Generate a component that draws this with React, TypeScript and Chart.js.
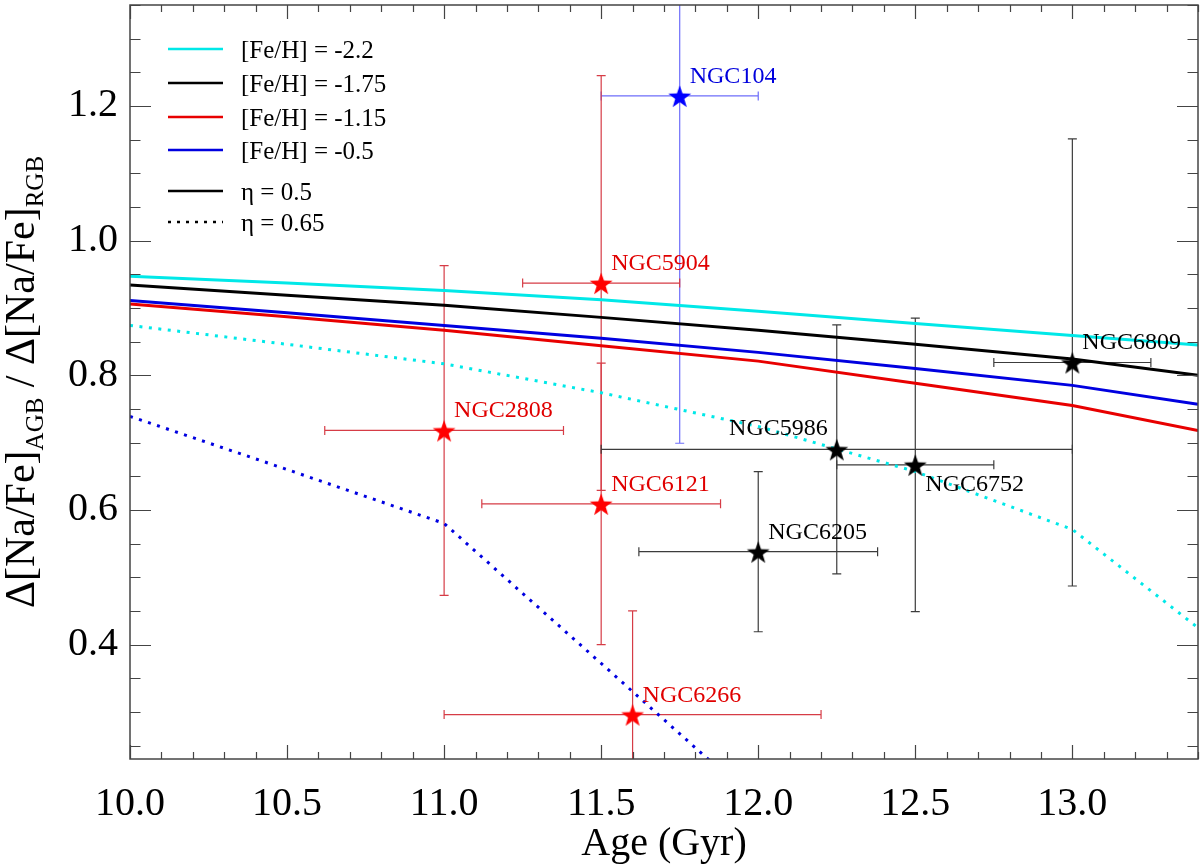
import React, { useEffect, useRef } from 'react';
import { Chart, registerables } from 'chart.js';

Chart.register(...registerables);

// model curves (age grid in Gyr)
const ages = [10.0, 10.5, 11.0, 11.5, 12.0, 12.5, 13.0, 13.4];
const feh22Eta050 = [0.947, 0.937, 0.926, 0.912, 0.895, 0.877, 0.859, 0.845];
const feh175Eta050 = [0.934, 0.919, 0.904, 0.886, 0.867, 0.846, 0.824, 0.8];
const feh115Eta050 = [0.906, 0.887, 0.867, 0.844, 0.821, 0.788, 0.755, 0.718];
const feh05Eta050 = [0.911, 0.893, 0.874, 0.855, 0.834, 0.81, 0.785, 0.757];
const feh22Eta065 = [0.874, 0.846, 0.817, 0.774, 0.724, 0.657, 0.571, 0.425];
const feh05Eta065 = [0.739, 0.66, 0.58, 0.372, 0.163, null, null, null];

// globular clusters
const clusterNames = ['NGC104', 'NGC5904', 'NGC2808', 'NGC6121', 'NGC6266', 'NGC6205', 'NGC5986', 'NGC6752', 'NGC6809'];
const clusterAge = [11.75, 11.5, 11.0, 11.5, 11.6, 12.0, 12.25, 12.5, 13.0];
const clusterAgeErr = [0.25, 0.25, 0.38, 0.38, 0.6, 0.38, 0.75, 0.25, 0.25];
const clusterRatio = [1.215, 0.937, 0.718, 0.609, 0.296, 0.538, 0.69, 0.667, 0.819];
const clusterRatioErr = [0.516, 0.308, 0.245, 0.209, 0.154, 0.119, 0.185, 0.218, 0.332];
const clusterGroup = ['blue', 'red', 'red', 'red', 'red', 'black', 'black', 'black', 'black'];
const labelSide = ['ur', 'ur', 'ur', 'ur', 'ur', 'ur', 'ul', 'lr', 'ur'];

const xTicks = [10.0, 10.5, 11.0, 11.5, 12.0, 12.5, 13.0];
const yTicks = [0.4, 0.6, 0.8, 1.0, 1.2];

const legendLabels = ['[Fe/H] = -2.2', '[Fe/H] = -1.75', '[Fe/H] = -1.15', '[Fe/H] = -0.5', 'η = 0.5', 'η = 0.65'];

const SERIF = "'Liberation Serif', 'DejaVu Serif', serif";
const CYAN = '#00e8e8';
const RED = '#e80000';
const BLUE = '#0000e0';

const starColors: Record<string, string> = { red: '#ff0000', black: '#000000', blue: '#0000ff' };
const textColors: Record<string, string> = { red: '#e00000', black: '#000000', blue: '#0000dd' };
const errColors: Record<string, string> = { red: 'rgb(214,60,70)', black: 'rgb(60,60,60)', blue: 'rgb(110,110,250)' };

const legendColors = [CYAN, '#000', RED, BLUE, '#000', '#000'];

function makeStar(color: string, r = 12) {
  const size = Math.ceil(r * 2 + 2);
  const c = document.createElement('canvas');
  c.width = size;
  c.height = size;
  const g = c.getContext('2d')!;
  g.fillStyle = color;
  g.beginPath();
  for (let i = 0; i < 10; i++) {
    const rad = i % 2 === 0 ? r : r * 0.4;
    const a = -Math.PI / 2 + (i * Math.PI) / 5;
    const px = size / 2 + rad * Math.cos(a);
    const py = size / 2 + 1.5 + rad * Math.sin(a);
    if (i === 0) g.moveTo(px, py);
    else g.lineTo(px, py);
  }
  g.closePath();
  g.fill();
  return c;
}

const curve = (vals: (number | null)[]) => ages.map((a, i) => ({ x: a, y: vals[i] }));

const errorBars = {
  id: 'errorBars',
  beforeDatasetsDraw(chart: any) {
    const { ctx, chartArea: a, scales } = chart;
    const x = scales.x, y = scales.y;
    const cap = 4.5;
    ctx.save();
    ctx.beginPath();
    ctx.rect(a.left, a.top, a.right - a.left, a.bottom - a.top);
    ctx.clip();
    ctx.lineWidth = 1.2;
    clusterNames.forEach((_, i) => {
      const cx = x.getPixelForValue(clusterAge[i]);
      const cy = y.getPixelForValue(clusterRatio[i]);
      const x0 = x.getPixelForValue(clusterAge[i] - clusterAgeErr[i]);
      const x1 = x.getPixelForValue(clusterAge[i] + clusterAgeErr[i]);
      const y0 = y.getPixelForValue(clusterRatio[i] - clusterRatioErr[i]);
      const y1 = y.getPixelForValue(clusterRatio[i] + clusterRatioErr[i]);
      ctx.strokeStyle = errColors[clusterGroup[i]];
      ctx.beginPath();
      ctx.moveTo(x0, cy);
      ctx.lineTo(x1, cy);
      ctx.moveTo(x0, cy - cap);
      ctx.lineTo(x0, cy + cap);
      ctx.moveTo(x1, cy - cap);
      ctx.lineTo(x1, cy + cap);
      ctx.moveTo(cx, y0);
      ctx.lineTo(cx, y1);
      ctx.moveTo(cx - cap, y0);
      ctx.lineTo(cx + cap, y0);
      ctx.moveTo(cx - cap, y1);
      ctx.lineTo(cx + cap, y1);
      ctx.stroke();
    });
    ctx.restore();
  },
};

const clusterLabels = {
  id: 'clusterLabels',
  afterDatasetsDraw(chart: any) {
    const { ctx, scales } = chart;
    ctx.save();
    ctx.font = `24px ${SERIF}`;
    ctx.textBaseline = 'alphabetic';
    clusterNames.forEach((name, i) => {
      const px = scales.x.getPixelForValue(clusterAge[i]);
      const py = scales.y.getPixelForValue(clusterRatio[i]);
      ctx.fillStyle = textColors[clusterGroup[i]];
      const side = labelSide[i];
      if (side === 'ul') {
        ctx.textAlign = 'right';
        ctx.fillText(name, px - 9, py - 14);
      } else if (side === 'lr') {
        ctx.textAlign = 'left';
        ctx.fillText(name, px + 10, py + 26);
      } else {
        ctx.textAlign = 'left';
        ctx.fillText(name, px + 10, py - 13);
      }
    });
    ctx.restore();
  },
};

const frameTicks = {
  id: 'frameTicks',
  afterDraw(chart: any) {
    const { ctx, chartArea: a, scales } = chart;
    const x = scales.x, y = scales.y;
    ctx.save();
    ctx.strokeStyle = '#444';
    ctx.lineWidth = 1.5;
    ctx.strokeRect(a.left, a.top, a.right - a.left, a.bottom - a.top);
    ctx.lineWidth = 1.2;
    ctx.beginPath();
    for (let k = Math.ceil(x.min * 10 - 1e-6); k <= Math.floor(x.max * 10 + 1e-6); k++) {
      const px = Math.round(x.getPixelForValue(k / 10)) + 0.5;
      const len = k % 5 === 0 ? 14 : 7;
      ctx.moveTo(px, a.bottom);
      ctx.lineTo(px, a.bottom - len);
      ctx.moveTo(px, a.top);
      ctx.lineTo(px, a.top + len);
    }
    for (let k = Math.ceil(y.min * 20 - 1e-6); k <= Math.floor(y.max * 20 + 1e-6); k++) {
      const py = Math.round(y.getPixelForValue(k / 20)) + 0.5;
      const len = k % 4 === 0 ? 21 : 10.5;
      ctx.moveTo(a.left, py);
      ctx.lineTo(a.left + len, py);
      ctx.moveTo(a.right, py);
      ctx.lineTo(a.right - len, py);
    }
    ctx.stroke();
    ctx.restore();
  },
};

const legendBox = {
  id: 'legendBox',
  afterDraw(chart: any) {
    const { ctx, chartArea: a } = chart;
    const rows = [44, 78, 112, 145, 186, 217];
    ctx.save();
    ctx.font = `25px ${SERIF}`;
    ctx.textBaseline = 'alphabetic';
    ctx.textAlign = 'left';
    legendLabels.forEach((label, i) => {
      const ly = a.top + rows[i];
      ctx.strokeStyle = legendColors[i];
      ctx.lineWidth = 2.5;
      ctx.setLineDash(i === 5 ? [3, 6] : []);
      ctx.beginPath();
      ctx.moveTo(a.left + 38, ly);
      ctx.lineTo(a.left + 93, ly);
      ctx.stroke();
      ctx.fillStyle = '#000';
      ctx.fillText(label, a.left + 111, ly + 9);
    });
    ctx.restore();
  },
};

const yTitle = {
  id: 'yTitle',
  afterDraw(chart: any) {
    const { ctx, chartArea: a } = chart;
    const main = `42px ${SERIF}`;
    const sub = `25px ${SERIF}`;
    const parts: [string, boolean][] = [
      ['Δ[Na/Fe]', false],
      ['AGB', true],
      [' / Δ[Na/Fe]', false],
      ['RGB', true],
    ];
    ctx.save();
    let total = 0;
    const widths = parts.map(([t, s]) => {
      ctx.font = s ? sub : main;
      const w = ctx.measureText(t).width;
      total += w;
      return w;
    });
    ctx.translate(34, (a.top + a.bottom) / 2);
    ctx.rotate(-Math.PI / 2);
    ctx.fillStyle = '#000';
    ctx.textAlign = 'left';
    ctx.textBaseline = 'alphabetic';
    let pos = -total / 2;
    parts.forEach(([t, s], i) => {
      ctx.font = s ? sub : main;
      ctx.fillText(t, pos, s ? 9 : 0);
      pos += widths[i];
    });
    ctx.restore();
  },
};

const App: React.FC = () => {
  const chartRef = useRef<HTMLCanvasElement | null>(null);
  const chartInstanceRef = useRef<Chart | null>(null);

  useEffect(() => {
    if (!chartRef.current) return;
    const ctx = chartRef.current.getContext('2d');
    if (!ctx) return;

    const groupPoints = (g: string) =>
      clusterNames
        .map((_, i) => i)
        .filter((i) => clusterGroup[i] === g)
        .map((i) => ({ x: clusterAge[i], y: clusterRatio[i] }));

    const lineSet = (label: string, vals: (number | null)[], color: string, dotted: boolean) => ({
      type: 'line' as const,
      label,
      data: curve(vals),
      showLine: true,
      borderColor: color,
      borderWidth: 3,
      borderDash: dotted ? [3, 6.5] : [],
      pointRadius: 0,
      fill: false,
      tension: 0,
      order: 2,
    });

    const starSet = (g: string) => ({
      type: 'scatter' as const,
      label: g,
      data: groupPoints(g),
      pointStyle: makeStar(starColors[g]),
      pointRadius: 12,
      showLine: false,
      order: 0,
    });

    chartInstanceRef.current = new Chart(ctx, {
      type: 'scatter',
      data: {
        datasets: [
          lineSet('[Fe/H] = -2.2, η = 0.5', feh22Eta050, CYAN, false),
          lineSet('[Fe/H] = -1.75, η = 0.5', feh175Eta050, '#000', false),
          lineSet('[Fe/H] = -1.15, η = 0.5', feh115Eta050, RED, false),
          lineSet('[Fe/H] = -0.5, η = 0.5', feh05Eta050, BLUE, false),
          lineSet('[Fe/H] = -2.2, η = 0.65', feh22Eta065, CYAN, true),
          lineSet('[Fe/H] = -0.5, η = 0.65', feh05Eta065, BLUE, true),
          starSet('red'),
          starSet('black'),
          starSet('blue'),
        ] as any,
      },
      options: {
        animation: false,
        responsive: true,
        maintainAspectRatio: false,
        layout: { autoPadding: false, padding: { top: 5, right: 2, left: 0, bottom: 0 } },
        plugins: {
          legend: { display: false },
          tooltip: { enabled: false },
        },
        scales: {
          x: {
            type: 'linear',
            min: 10,
            max: 13.4,
            afterBuildTicks: (s: any) => {
              s.ticks = xTicks.map((v) => ({ value: v }));
            },
            afterFit: (s: any) => {
              s.height = 109;
              s.paddingLeft = 0;
              s.paddingRight = 0;
            },
            grid: { display: false, drawTicks: false },
            border: { display: false },
            ticks: {
              font: { family: SERIF, size: 40 },
              color: '#000',
              padding: 21,
              maxRotation: 0,
              autoSkip: false,
              callback: (v: any) => Number(v).toFixed(1),
            },
            title: {
              display: true,
              text: 'Age (Gyr)',
              color: '#000',
              font: { family: SERIF, size: 40 },
              padding: { top: 0, bottom: 0 },
            },
          },
          y: {
            type: 'linear',
            min: 0.23,
            max: 1.35,
            afterBuildTicks: (s: any) => {
              s.ticks = yTicks.map((v) => ({ value: v }));
            },
            afterFit: (s: any) => {
              s.width = 130;
              s.paddingTop = 0;
              s.paddingBottom = 0;
            },
            grid: { display: false, drawTicks: false },
            border: { display: false },
            ticks: {
              font: { family: SERIF, size: 40 },
              color: '#000',
              padding: 12,
              autoSkip: false,
              callback: (v: any) => Number(v).toFixed(1),
            },
          },
        },
      },
      plugins: [errorBars, clusterLabels, frameTicks, legendBox, yTitle],
    });

    return () => {
      if (chartInstanceRef.current) {
        chartInstanceRef.current.destroy();
        chartInstanceRef.current = null;
      }
    };
  }, []);

  return (
    <div style={{ position: 'absolute', left: 0, top: 0, width: 1200, height: 868, background: '#fff' }}>
      <canvas ref={chartRef} />
    </div>
  );
};

export default App;
